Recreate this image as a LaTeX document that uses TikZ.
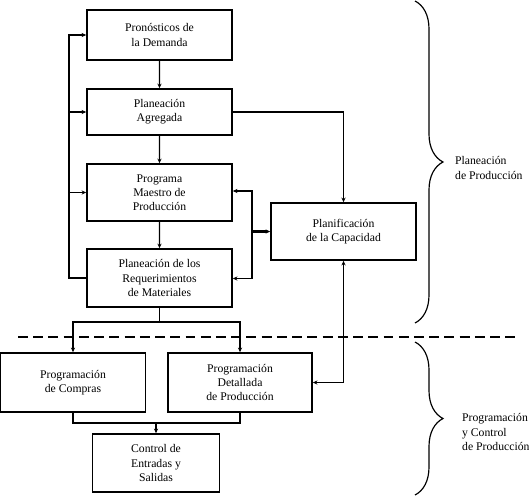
\documentclass[tikz,border=0pt]{standalone}
\usepackage{fontspec}
\setmainfont{Liberation Serif}
\usetikzlibrary{arrows.meta,decorations.pathreplacing}

\begin{document}
\begin{tikzpicture}[scale=0.3,
  box/.style={draw=black,line width=1.3pt,minimum width=4.35cm,align=center,inner sep=2pt},
  link/.style={line width=1.2pt,-{Stealth[length=4pt,width=3.5pt]}},
  bar/.style={line width=1.2pt}]
\useasboundingbox (0,0) rectangle (52.9,-49.7);
\node [box,minimum height=1.5cm] (pron) at (15.95,-3.5) {Pronósticos de\\la Demanda};
\node [box,minimum height=1.38cm] (agreg) at (15.95,-11.2) {Planeación\\Agregada};
\node [box,minimum height=1.71cm] (mps) at (15.95,-19.25) {Programa\\Maestro de\\Producción};
\node [box,minimum height=1.74cm] (mrp) at (15.95,-27.8) {Planeación de los\\Requerimientos\\de Materiales};
\node [box,minimum height=1.71cm] (cap) at (34.35,-23.15) {Planificación\\de la Capacidad};
\node [box,minimum height=1.77cm] (compras) at (7.3,-38.25) {Programación\\de Compras};
\node [box,minimum height=1.77cm,minimum width=4.32cm] (detall) at (24,-38.25) {Programación\\Detallada\\de Producción};
\node [box,minimum height=1.74cm,minimum width=3.81cm] (control) at (15.6,-46.3) {Control de\\Entradas y\\Salidas};
\draw [link] (pron) -- (agreg);
\draw [link] (agreg) -- (mps);
\draw [link] (mps) -- (mrp);
\coordinate (fb) at (6.9,-27.8);
\draw [link] (mrp.west) -- (fb) |- (pron.west);
\draw [link] (fb |- agreg.west) -- (agreg.west);
\draw [link] (fb |- mps.west) -- (mps.west);
\draw [link] (agreg.east) -| (cap.north);
\coordinate (capL) at (25.2,-23.15);
\draw [link,line width=2.2pt] (capL) -- (cap.west);
\draw [link] (capL) |- ([yshift=0.15cm]mps.east);
\draw [link] (capL) |- ([yshift=-0.05cm]mrp.east);
\draw [link,{Stealth[length=4pt,width=3.5pt]}-{Stealth[length=4pt,width=3.5pt]}] (cap.south) |- (detall.east);
\coordinate (split) at (15.95,-32.2);
\draw [bar] (mrp.south) -- (split);
\draw [link] (split) -| (compras.north);
\draw [link] (split) -| (detall.north);
\coordinate (merge) at (15.6,-42.3);
\draw [bar] (compras.south) |- (merge);
\draw [bar] (detall.south) |- (merge);
\draw [link] (merge) -- (control.north);
\draw [line width=1.3pt,dash pattern=on 8.5pt off 4.5pt] (1.8,-33.7) -- (51.8,-33.7);
\draw [line width=1pt,decorate,decoration={brace,amplitude=0.84cm}] (41.5,-0.1) -- (41.5,-32.3);
\draw [line width=1pt,decorate,decoration={brace,amplitude=0.84cm}] (41.5,-34.2) -- (41.5,-49.5);
\node [anchor=west,align=left] (planprod) at (45.1,-16.8) {Planeación\\de Producción};
\node [anchor=west,align=left] (progctrl) at (45.8,-43.2) {Programación\\y Control\\de Producción};
\end{tikzpicture}
\end{document}
